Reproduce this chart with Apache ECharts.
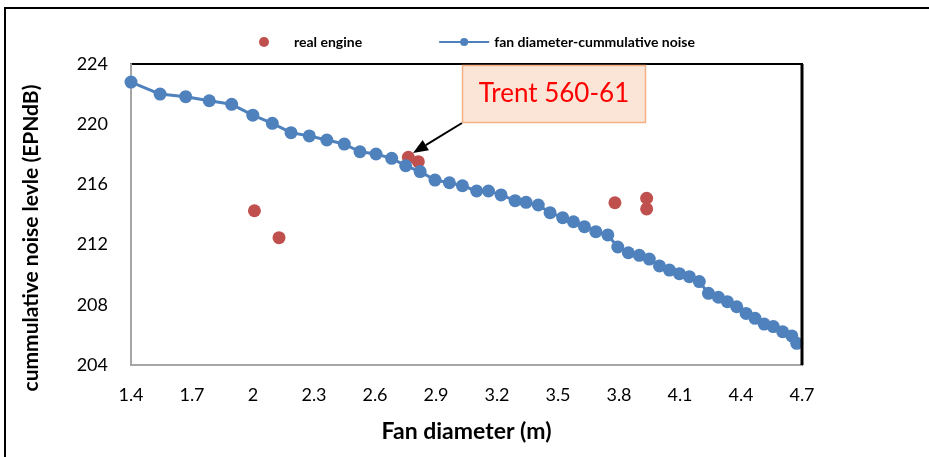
<!DOCTYPE html>
<html>
<head>
<meta charset="utf-8">
<script src="https://cdn.jsdelivr.net/npm/echarts@6/dist/echarts.min.js"></script>
<style>
html,body{margin:0;padding:0;background:#fff;}
#c{width:929px;height:457px;}
</style>
</head>
<body>
<div id="c"></div>
<script>
// Data
const curveX = [1.40,1.543,1.669,1.785,1.895,1.999,2.095,2.187,2.277,2.363,2.449,2.526,2.605,2.682,2.751,2.822,2.895,2.966,3.030,3.100,3.158,3.220,3.289,3.343,3.403,3.461,3.523,3.576,3.630,3.686,3.745,3.794,3.846,3.900,3.949,3.999,4.048,4.097,4.146,4.195,4.240,4.289,4.333,4.379,4.425,4.469,4.514,4.559,4.605,4.650,4.674];
const curveY = [222.8,222.0,221.83,221.56,221.32,220.6,220.06,219.44,219.22,218.95,218.68,218.17,218.02,217.73,217.24,216.85,216.29,216.11,215.91,215.56,215.56,215.30,214.92,214.81,214.63,214.12,213.79,213.52,213.19,212.86,212.64,211.84,211.46,211.29,211.04,210.58,210.31,210.07,209.87,209.54,208.76,208.50,208.21,207.87,207.43,207.10,206.72,206.55,206.21,205.93,205.44];
const engineX = [2.007,2.128,2.764,2.813,3.780,3.936,3.936];
const engineY = [214.25,212.46,217.80,217.51,214.78,215.08,214.37];
const xTicks = [1.4,1.7,2.0,2.3,2.6,2.9,3.2,3.5,3.8,4.1,4.4,4.7];
const seriesNames = ['real engine','fan diameter-cummulative noise'];
const xTitle = 'Fan diameter (m)';
const yTitle = 'cummulative noise levle (EPNdB)';
const annotationText = 'Trent 560-61';

const FONT = 'Lato, Carlito, "Open Sans", sans-serif';
const chart = echarts.init(document.getElementById('c'), null, {renderer:'canvas'});

const curveData = curveX.map((x,i)=>[x,curveY[i]]);
const engineData = engineX.map((x,i)=>[x,engineY[i]]);

chart.setOption({
  animation:false,
  backgroundColor:'#fff',
  textStyle:{fontFamily:FONT},
  grid:{left:131,right:127,top:64,bottom:92,show:true,borderColor:'#000',borderWidth:2,containLabel:false},
  legend:{
    left:254, top:30,
    itemWidth:50, itemHeight:10, itemGap:76,
    textStyle:{fontFamily:FONT,fontSize:14,fontWeight:'bold',color:'#000'},
    data:[{name:seriesNames[0],icon:'circle'},{name:seriesNames[1]}]
  },
  xAxis:{
    type:'value', min:1.4, max:4.7,
    name:xTitle, nameLocation:'middle', nameGap:55,
    nameTextStyle:{fontFamily:FONT,fontSize:23,fontWeight:'bold',color:'#000'},
    axisLine:{show:true,onZero:false,lineStyle:{color:'#a6a6a6',width:2}},
    axisTick:{show:false,customValues:xTicks},
    splitLine:{show:false},
    axisLabel:{customValues:xTicks,margin:21,fontFamily:FONT,fontSize:18,color:'#000',
      formatter:v=>String(+(+v).toFixed(1))}
  },
  yAxis:{
    type:'value', min:204, max:224, interval:4,
    axisLine:{show:true,lineStyle:{color:'#a6a6a6',width:2}},
    axisTick:{show:false},
    splitLine:{show:false},
    axisLabel:{margin:23,fontFamily:FONT,fontSize:18,color:'#000'}
  },
  series:[
    {name:seriesNames[0],type:'scatter',data:engineData,symbol:'circle',symbolSize:13,
     itemStyle:{color:'#c0504d',opacity:1},z:2},
    {name:seriesNames[1],type:'line',data:curveData,symbol:'circle',symbolSize:13,showSymbol:true,
     lineStyle:{color:'#4f81bd',width:3},itemStyle:{color:'#4f81bd',opacity:1},z:3}
  ]
});

// annotation (callout box + arrow), outer frame, y-axis title
const tipX=413, tipY=153, baseX=462, baseY=123;
const ang=Math.atan2(tipY-baseY, tipX-baseX);
const hl=15, hw=6;
const bx=tipX-hl*Math.cos(ang), by=tipY-hl*Math.sin(ang);
const px=-Math.sin(ang), py=Math.cos(ang);
chart.setOption({
  graphic:[
    {type:'rect',shape:{x:5,y:8,width:940,height:470},
     style:{fill:'none',stroke:'#000',lineWidth:2},silent:true,z:0},
    {type:'line',shape:{x1:802,y1:64,x2:802,y2:365},style:{stroke:'#000',lineWidth:3},silent:true,z:4},
    {type:'text',x:31,y:238,rotation:Math.PI/2,
     style:{text:yTitle,fill:'#000',font:'bold 21px '+FONT,align:'center',verticalAlign:'middle'},z:5},
    {type:'line',shape:{x1:baseX,y1:baseY,x2:bx,y2:by},style:{stroke:'#000',lineWidth:2},z:10},
    {type:'polygon',shape:{points:[[tipX,tipY],[bx+px*hw,by+py*hw],[bx-px*hw,by-py*hw]]},style:{fill:'#000'},z:10},
    {type:'rect',shape:{x:462.5,y:65.5,width:183,height:57},
     style:{fill:'#fbe5d6',stroke:'#f4b183',lineWidth:1.5},z:10},
    {type:'text',x:554,y:94,style:{text:annotationText,fill:'#ff0000',font:'26px '+FONT,align:'center',verticalAlign:'middle'},z:11}
  ]
});
</script>
</body>
</html>
